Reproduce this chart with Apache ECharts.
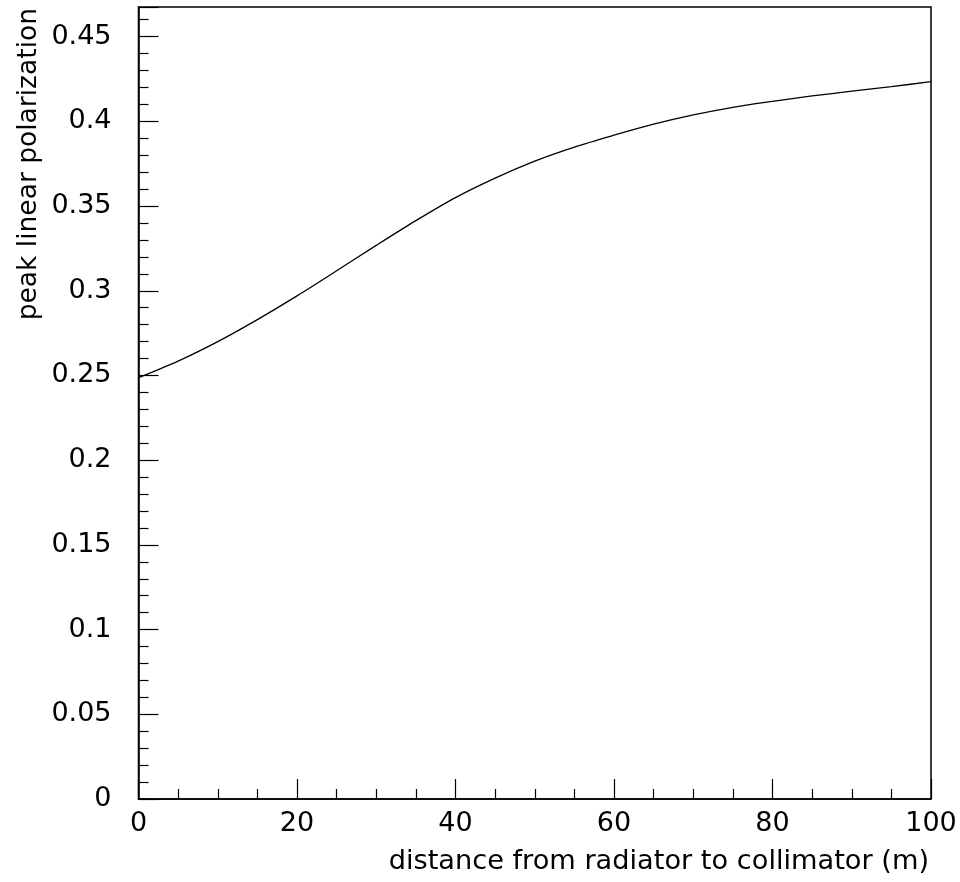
<!DOCTYPE html>
<html>
<head>
<meta charset="utf-8">
<script src="https://cdn.jsdelivr.net/npm/echarts@6/dist/echarts.min.js"></script>
<style>
html,body{margin:0;padding:0;background:#fff;}
#chart{width:960px;height:882px;}
</style>
</head>
<body>
<div id="chart"></div>
<script>
// distance from radiator to collimator (m)
const distance = [0, 5, 10, 15, 20, 25, 30, 35, 40, 45, 50, 55, 60, 65, 70, 75, 80, 85, 90, 95, 100];
// peak linear polarization
const polarization = [0.2487, 0.2585, 0.2700, 0.2830, 0.2970, 0.3118, 0.3268, 0.3414, 0.3550, 0.3665, 0.3765, 0.3848, 0.3918, 0.3983, 0.4038, 0.4083, 0.4118, 0.4150, 0.4178, 0.4205, 0.4234];
const yTickLabels = ['0', '0.05', '0.1', '0.15', '0.2', '0.25', '0.3', '0.35', '0.4', '0.45'];
const xTitle = 'distance from radiator to collimator (m)';
const yTitle = 'peak linear polarization';

const FONT = 'DejaVu Sans';
const chart = echarts.init(document.getElementById('chart'));
chart.setOption({
  animation: false,
  backgroundColor: '#fff',
  grid: {left: 138.5, right: 29, top: 7, bottom: 83, containLabel: false, outerBoundsMode: 'none',
         show: true, borderColor: '#000', borderWidth: 1.5, backgroundColor: 'transparent'},
  graphic: [{
    type: 'text',
    x: 29, y: 8,
    rotation: Math.PI / 2,
    style: {text: yTitle, fontFamily: FONT, fontSize: 26.5, fill: '#000', align: 'right', verticalAlign: 'middle'}
  }, {
    type: 'text',
    x: 929, y: 862,
    style: {text: xTitle, fontFamily: FONT, fontSize: 27.2, fill: '#000', align: 'right', verticalAlign: 'middle'}
  }],
  xAxis: {
    type: 'value', min: 0, max: 100, interval: 20,
    axisLine: {lineStyle: {color: '#000', width: 1.5}},
    axisTick: {inside: true, length: 20, lineStyle: {color: '#000', width: 1.2}},
    minorTick: {show: true, splitNumber: 4, length: 10, lineStyle: {color: '#000', width: 1.2}},
    axisLabel: {fontFamily: FONT, fontSize: 27, color: '#000', margin: 11},
    splitLine: {show: false}
  },
  yAxis: {
    type: 'value', min: 0, max: 0.4675, interval: 0.05,
    axisLine: {lineStyle: {color: '#000', width: 1.5}},
    axisTick: {inside: true, length: 20, lineStyle: {color: '#000', width: 1.2}},
    minorTick: {show: true, splitNumber: 5, length: 10, lineStyle: {color: '#000', width: 1.2}},
    axisLabel: {
      fontFamily: FONT, fontSize: 27, color: '#000', margin: 27,
      formatter: function (v) {
        const i = Math.round(v / 0.05);
        if (Math.abs(v - i * 0.05) > 1e-6) return '';
        return yTickLabels[i] !== undefined ? yTickLabels[i] : '';
      }
    },
    splitLine: {show: false}
  },
  series: [{
    type: 'line',
    data: distance.map((d, i) => [d, polarization[i]]),
    smooth: 0.3,
    showSymbol: false,
    lineStyle: {color: '#000', width: 1.3}
  }]
});
</script>
</body>
</html>
